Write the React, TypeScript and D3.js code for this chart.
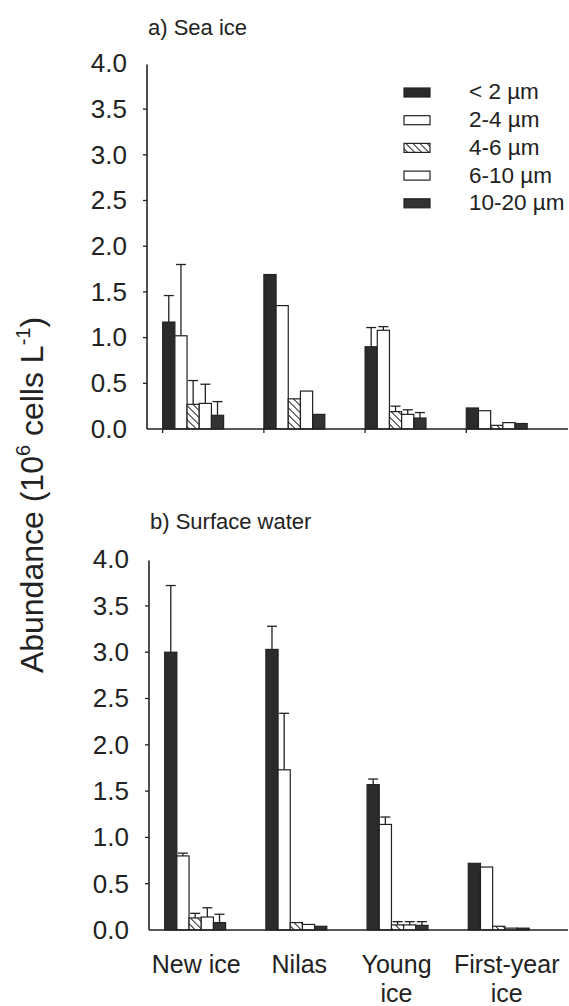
import React from "react";
import * as d3 from "d3";

const categories = ["New ice", "Nilas", "Young ice", "First-year ice"];
const categoryLines = [["New ice"], ["Nilas"], ["Young", "ice"], ["First-year", "ice"]];
const sizeClasses = ["< 2 µm", "2-4 µm", "4-6 µm", "6-10 µm", "10-20 µm"];
const yTicks = [0, 0.5, 1.0, 1.5, 2.0, 2.5, 3.0, 3.5, 4.0];

// a) Sea ice — mean values per size class (rows) and category (columns)
const seaIceLt2 = [1.17, 1.69, 0.9, 0.23];
const seaIce2to4 = [1.02, 1.35, 1.08, 0.2];
const seaIce4to6 = [0.27, 0.33, 0.19, 0.04];
const seaIce6to10 = [0.28, 0.415, 0.16, 0.07];
const seaIce10to20 = [0.15, 0.16, 0.12, 0.06];
// error bar (upper) magnitudes
const seaIceErrLt2 = [0.29, null, 0.21, null];
const seaIceErr2to4 = [0.78, null, 0.04, null];
const seaIceErr4to6 = [0.26, null, 0.06, null];
const seaIceErr6to10 = [0.21, null, 0.05, null];
const seaIceErr10to20 = [0.15, null, 0.06, null];

// b) Surface water
const waterLt2 = [3.0, 3.03, 1.57, 0.72];
const water2to4 = [0.8, 1.73, 1.14, 0.68];
const water4to6 = [0.13, 0.08, 0.055, 0.04];
const water6to10 = [0.14, 0.06, 0.055, 0.02];
const water10to20 = [0.08, 0.04, 0.05, 0.02];
const waterErrLt2 = [0.72, 0.25, 0.06, null];
const waterErr2to4 = [0.03, 0.61, 0.08, null];
const waterErr4to6 = [0.05, null, 0.035, null];
const waterErr6to10 = [0.1, null, 0.035, null];
const waterErr10to20 = [0.09, null, 0.04, null];

const FONT = "'Liberation Sans', Arial, Helvetica, sans-serif";
const INK = "#222";
const DARK = "#2b2b2b";

const fills = [DARK, "#fff", "url(#hatch)", "#fff", "#333"];

type PanelProps = {
  title: string;
  values: number[][];
  errs: (number | null)[][];
  left: number;
  y0: number;
  y4: number;
  titleY: number;
  catTicks: boolean;
  legend: boolean;
  catLabels: boolean;
};

function Panel(p: PanelProps) {
  const step = 101.2;
  const xCat = d3
    .scaleBand<string>()
    .domain(categories)
    .range([p.left, p.left + step * (4 - 0.398 + 0.31)])
    .paddingInner(0.398)
    .paddingOuter(0.155);
  const xSer = d3
    .scaleBand<string>()
    .domain(sizeClasses)
    .range([0, xCat.bandwidth()])
    .padding(0);
  const y = d3.scaleLinear().domain([0, 4]).range([p.y0, p.y4]);
  const right = 568;
  const bw = xSer.bandwidth();
  const labelShift = [1, 3, -1, 8];
  return (
    <g>
      <text x={p.left + 1} y={p.titleY} fontSize={22} fill={INK} fontFamily={FONT}>
        {p.title}
      </text>
      {/* bars */}
      {sizeClasses.map((s, si) =>
        categories.map((c, ci) => {
          const v = p.values[si][ci];
          const x = (xCat(c) as number) + (xSer(s) as number);
          const e = p.errs[si][ci];
          return (
            <g key={s + c}>
              {e != null && (
                <g stroke={INK} strokeWidth={1.3}>
                  <line x1={x + bw / 2} x2={x + bw / 2} y1={y(v)} y2={y(v + e)} />
                  <line x1={x + bw / 2 - 5} x2={x + bw / 2 + 5} y1={y(v + e)} y2={y(v + e)} />
                </g>
              )}
              <rect
                x={x}
                y={y(v)}
                width={bw}
                height={p.y0 - y(v)}
                fill={fills[si]}
                stroke={INK}
                strokeWidth={1.2}
              />
            </g>
          );
        })
      )}
      {/* axes */}
      <line x1={p.left} x2={p.left} y1={y(4) + 1} y2={p.y0} stroke={INK} strokeWidth={1.6} />
      <line x1={p.left} x2={right} y1={p.y0} y2={p.y0} stroke={INK} strokeWidth={1.6} />
      {yTicks.map((t) => (
        <g key={t}>
          {t > 0 && t < 4 && (
            <line x1={p.left - 4} x2={p.left} y1={y(t)} y2={y(t)} stroke={INK} strokeWidth={1.3} />
          )}
          <text
            x={p.left - 20}
            y={y(t) + 2}
            textAnchor="end"
            dominantBaseline="middle"
            fontSize={26}
            fill={INK}
            fontFamily={FONT}
          >
            {t.toFixed(1)}
          </text>
        </g>
      ))}
      {p.catTicks &&
        categories.map((c) => (
          <line
            key={c}
            x1={xCat(c) as number}
            x2={xCat(c) as number}
            y1={p.y0}
            y2={p.y0 + 4}
            stroke={INK}
            strokeWidth={1.3}
          />
        ))}
      {p.catLabels &&
        categories.map((c, ci) => {
          const cx = (xCat(c) as number) + xCat.bandwidth() / 2 + labelShift[ci];
          return (
            <text
              key={c}
              x={cx}
              y={p.y0 + 43}
              textAnchor="middle"
              fontSize={25}
              fill={INK}
              fontFamily={FONT}
            >
              {categoryLines[ci].map((ln, li) => (
                <tspan key={li} x={cx} dy={li === 0 ? 0 : 29}>
                  {ln}
                </tspan>
              ))}
            </text>
          );
        })}
      {p.legend &&
        sizeClasses.map((s, si) => {
          const ly = 92.5 + si * 27.7;
          return (
            <g key={s}>
              <rect x={404} y={ly - 4.5} width={26} height={9} fill={fills[si]} stroke={INK} strokeWidth={1.2} />
              <text
                x={469}
                y={ly + 1}
                dominantBaseline="middle"
                fontSize={22.5}
                fill={INK}
                fontFamily={FONT}
              >
                {s}
              </text>
            </g>
          );
        })}
    </g>
  );
}

export default function App() {
  const seaVals = [seaIceLt2, seaIce2to4, seaIce4to6, seaIce6to10, seaIce10to20];
  const seaErrs = [seaIceErrLt2, seaIceErr2to4, seaIceErr4to6, seaIceErr6to10, seaIceErr10to20];
  const wVals = [waterLt2, water2to4, water4to6, water6to10, water10to20];
  const wErrs = [waterErrLt2, waterErr2to4, waterErr4to6, waterErr6to10, waterErr10to20];
  return (
    <svg
      width={569}
      height={1006}
      style={{ position: "absolute", left: 0, top: 0, background: "#fff" }}
    >
      <defs>
        <pattern id="hatch" patternUnits="userSpaceOnUse" width={5} height={5} patternTransform="rotate(-45)">
          <rect width={5} height={5} fill="#fff" />
          <line x1={0} y1={0} x2={0} y2={5} stroke={INK} strokeWidth={2} />
        </pattern>
      </defs>
      <Panel
        title="a) Sea ice"
        values={seaVals}
        errs={seaErrs}
        left={147}
        y0={429}
        y4={63.4}
        titleY={35}
        catTicks={true}
        legend={true}
        catLabels={false}
      />
      <Panel
        title="b) Surface water"
        values={wVals}
        errs={wErrs}
        left={149}
        y0={930}
        y4={559.6}
        titleY={529}
        catTicks={false}
        legend={false}
        catLabels={true}
      />
      <text
        transform="translate(43,495) rotate(-90)"
        textAnchor="middle"
        fontSize={32}
        fill={INK}
        fontFamily={FONT}
      >
        Abundance (10
        <tspan fontSize={20} dy={-13}>6</tspan>
        <tspan dy={13}> cells L</tspan>
        <tspan fontSize={20} dy={-13}>-1</tspan>
        <tspan dy={13}>)</tspan>
      </text>
    </svg>
  );
}
